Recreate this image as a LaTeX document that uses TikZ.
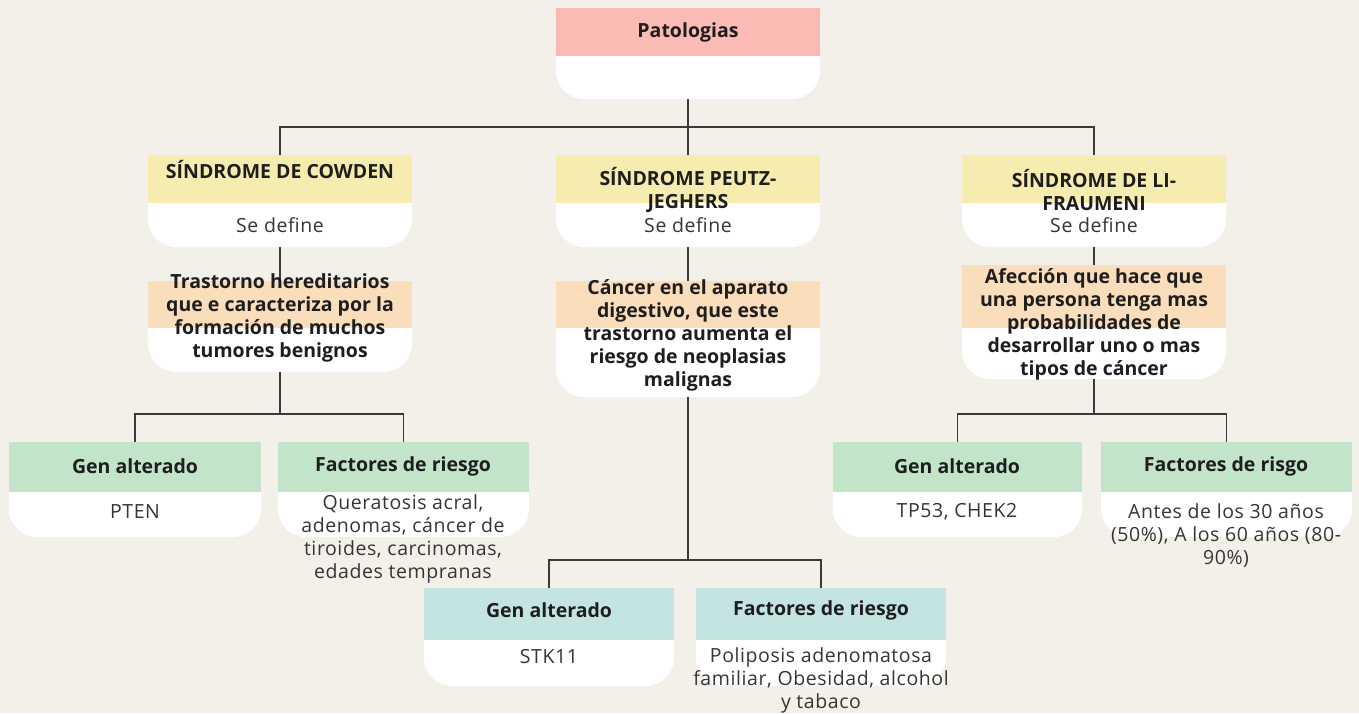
\documentclass[tikz,border=0pt]{standalone}
\usepackage{fontspec}
\setmainfont{Open Sans}
\newfontfamily\regfont{Open Sans}[LetterSpace=3]
\usetikzlibrary{fit}
\definecolor{bg}{RGB}{243,239,233}
\definecolor{cpink}{RGB}{249,187,180}
\definecolor{cyel}{RGB}{246,236,176}
\definecolor{cpeach}{RGB}{250,221,187}
\definecolor{cgreen}{RGB}{194,229,202}
\definecolor{cteal}{RGB}{196,228,226}
\definecolor{cline}{RGB}{58,58,58}
\definecolor{ctxt}{RGB}{30,30,30}
\newcommand\cardbox[7]{% name, left, right, top, mid, bottom, colour
  \fill[white,rounded corners=28pt] (#2,#5-40) rectangle (#3,#6);
  \fill[#7] (#2,#4) rectangle (#3,#5);
  \path (#2,#4) coordinate (#1tl) (#3,#6) coordinate (#1br);
  \node[inner sep=0pt,fit=(#1tl)(#1br)] (#1) {};
}
\tikzset{
  hd/.style={font=\fontsize{19.5}{23}\selectfont\bfseries, text=ctxt, align=center, inner sep=0pt},
  tx/.style={font=\regfont\fontsize{19.5}{23}\selectfont, text=ctxt!90, align=center, inner sep=0pt},
  conn/.style={draw=cline, line width=1.5pt}
}
\begin{document}
\begin{tikzpicture}[x=1pt,y=-1pt]
\useasboundingbox (0,0) rectangle (1359,713);
\fill[bg] (0,0) rectangle (1359,713);

% boxes
\cardbox{root}{556}{820}{8}{56}{99}{cpink}
\cardbox{cow}{148}{412}{155}{203}{247}{cyel}
\cardbox{pj}{556}{820}{155}{203}{247}{cyel}
\cardbox{li}{962}{1226}{155}{203}{247}{cyel}
\cardbox{cdef}{148}{412}{281}{328}{372}{cpeach}
\cardbox{pdef}{556}{820}{281}{328}{397}{cpeach}
\cardbox{ldef}{962}{1226}{265}{328}{379}{cpeach}
\cardbox{cgen}{9}{261}{442}{492}{537}{cgreen}
\cardbox{cfac}{278}{529}{442}{492}{537}{cgreen}
\cardbox{lgen}{833}{1082}{442}{492}{537}{cgreen}
\cardbox{lfac}{1101}{1352}{442}{492}{537}{cgreen}
\cardbox{pgen}{424}{674}{588}{640}{686}{cteal}
\cardbox{pfac}{696}{946}{588}{640}{686}{cteal}

% connectors
\draw[conn] (root.south) -- ++(0,28) coordinate (b0);
\draw[conn] (cow.north) |- (b0) -| (li.north);
\draw[conn] (pj.north) -- (pj.north |- b0);
\draw[conn] (cow.south) -- (cdef.north);
\draw[conn] (pj.south) -- (pdef.north);
\draw[conn] (li.south) -- (ldef.north);
\draw[conn] (cdef.south) -- ++(0,42) coordinate (b1);
\draw[conn] (cgen.north) |- (b1) -| (cfac.north);
\draw[conn] (pdef.south) -- ++(0,163) coordinate (b2);
\draw[conn] (pgen.north) |- (b2) -| (pfac.north);
\draw[conn] (ldef.south) -- ++(0,35) coordinate (b3);
\draw[conn] (lgen.north) |- (b3) -| (lfac.north);

% texts
\node[hd] (t0) at (688,32) {Patologias};
\node[hd] (t1) at (280,170) {SÍNDROME DE COWDEN};
\node[tx] (t1b) at (280,225) {Se define};
\node[hd] (t2) at (688,190) {SÍNDROME PEUTZ-\\JEGHERS};
\node[tx] (t2b) at (688,225) {Se define};
\node[hd] (t3) at (1094,190) {SÍNDROME DE LI-\\FRAUMENI};
\node[tx] (t3b) at (1094,225) {Se define};
\node[hd] (d1) at (280,318) {Trastorno hereditarios\\que e caracteriza por la\\formación de muchos\\tumores benignos};
\node[hd] (d2) at (688,335) {Cáncer en el aparato\\digestivo, que este\\trastorno aumenta el\\riesgo de neoplasias\\malignas};
\node[hd] (d3) at (1094,324) {Afección que hace que\\una persona tenga mas\\probabilidades de\\desarrollar uno o mas\\tipos de cáncer};
\node[hd] (g1) at (135,466) {Gen alterado};
\node[tx] (g1b) at (135,512) {PTEN};
\node[hd] (f1) at (403,466) {Factores de riesgo};
\node[tx] (f1b) at (403,538.5) {Queratosis acral,\\adenomas, cáncer de\\tiroides, carcinomas,\\edades tempranas};
\node[hd] (g3) at (957,466) {Gen alterado};
\node[tx] (g3b) at (957,512) {TP53, CHEK2};
\node[hd] (f3) at (1226,466) {Factores de risgo};
\node[tx] (f3b) at (1226,535.5) {Antes de los 30 años\\(50\%), A los 60 años (80-\\90\%)};
\node[hd] (g2) at (549,610) {Gen alterado};
\node[tx] (g2b) at (549,657) {STK11};
\node[hd] (f2) at (821,610) {Factores de riesgo};
\node[tx] (f2b) at (821,680) {Poliposis adenomatosa\\familiar, Obesidad, alcohol\\y tabaco};
\end{tikzpicture}
\end{document}
